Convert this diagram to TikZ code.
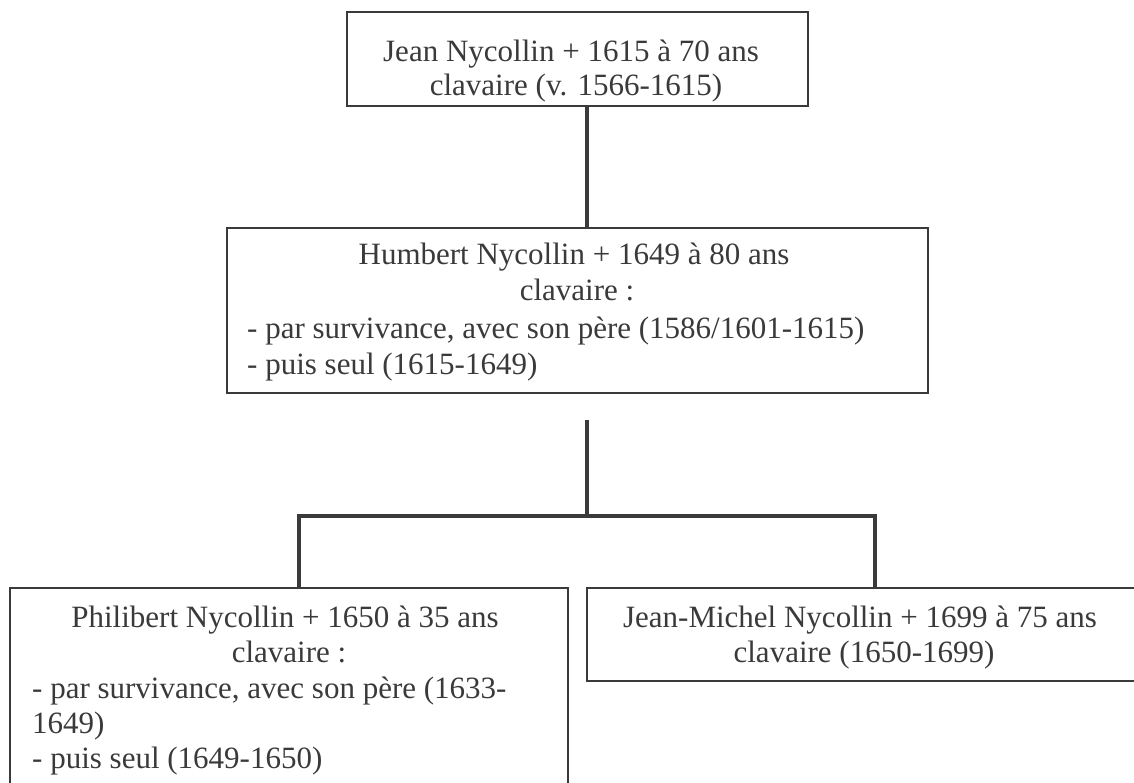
\documentclass[tikz,border=0pt]{standalone}
\usepackage{fontspec}
\setmainfont{Liberation Serif}
\definecolor{ink}{RGB}{58,58,58}
\begin{document}
\begin{tikzpicture}[x=1pt,y=-1pt,
  box/.style={draw=ink, line width=2.6pt, rectangle, inner sep=0pt, outer sep=0pt},
  link/.style={draw=ink, line width=3.8pt},
  txt/.style={text=ink, inner sep=0pt, font=\fontsize{31}{36}\selectfont},
  cline/.style={txt, anchor=base},
  lline/.style={txt, anchor=base west}]
\useasboundingbox (0,0) rectangle (1134,783);
\clip (0,0) rectangle (1134,783);

% frames of the four entries
\node[box, minimum width=461pt, minimum height=94pt]  (jean)       at (577.5,59)   {};
\node[box, minimum width=701pt, minimum height=165pt] (humbert)    at (577.5,310.5) {};
\node[box, minimum width=558pt, minimum height=212pt] (philibert)  at (289,694)    {};
\node[box, minimum width=563pt, minimum height=93pt]  (jeanmichel) at (868.5,634.5) {};

% lineage connectors
\coordinate (stem) at (587,420);
\coordinate (fork) at (587,516);
\draw[link] ([xshift=9.5pt]jean.south) -- ([xshift=9.5pt]humbert.north);
\draw[link] (stem) -- (fork);
\draw[link] ([xshift=10pt]philibert.north) |- (fork) -| ([xshift=6.5pt]jeanmichel.north);

% texts
\node[cline] (j1) at (571,62) {Jean Nycollin + 1615 à 70 ans};
\node[cline] (j2) at (576,96) {clavaire (v. 1566-1615)};

\node[cline] (h1) at (574,265) {Humbert Nycollin + 1649 à 80 ans};
\node[cline] (h2) at (577,301) {clavaire :};
\node[lline] (h3) at (247,338) {- par survivance, avec son père (1586/1601-1615)};
\node[lline] (h4) at (247,374) {- puis seul (1615-1649)};

\node[cline] (p1) at (285,627) {Philibert Nycollin + 1650 à 35 ans};
\node[cline] (p2) at (289,662) {clavaire :};
\node[lline] (p3) at (32,698) {- par survivance, avec son père (1633-};
\node[lline] (p4) at (32,733) {1649)};
\node[lline] (p5) at (32,768) {- puis seul (1649-1650)};

\node[cline] (m1) at (860,627) {Jean-Michel Nycollin + 1699 à 75 ans};
\node[cline] (m2) at (864,662) {clavaire (1650-1699)};
\end{tikzpicture}
\end{document}
